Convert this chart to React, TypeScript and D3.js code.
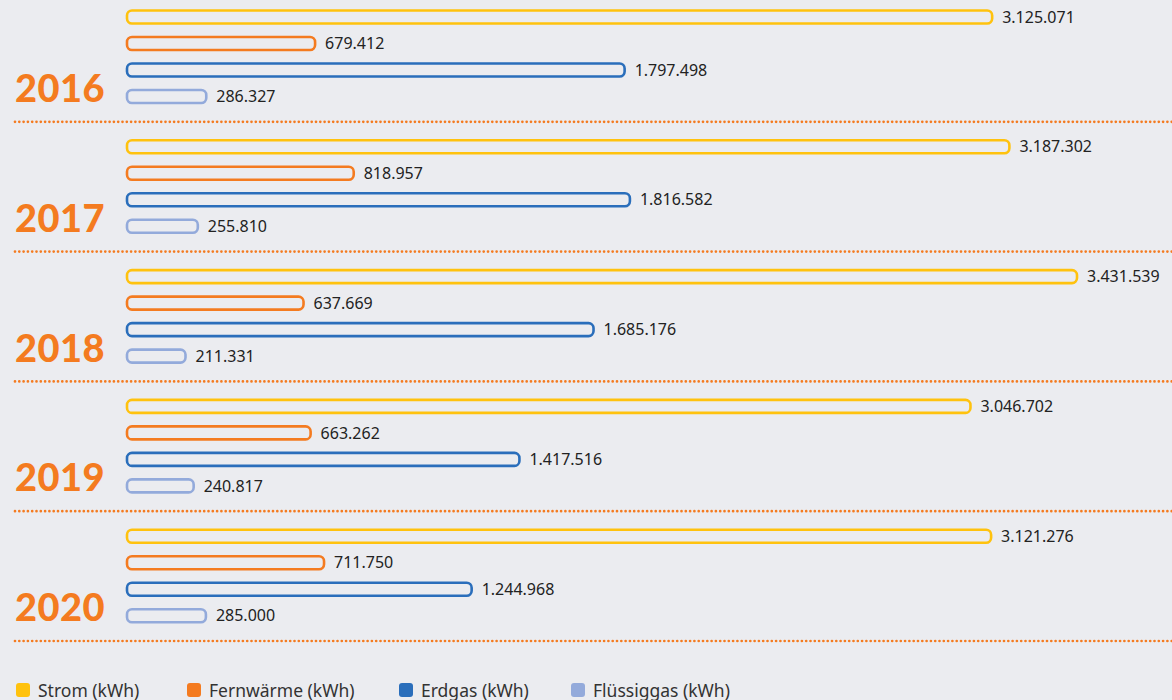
import * as d3 from "d3";

const years = ["2016", "2017", "2018", "2019", "2020"];
const series = ["Strom (kWh)", "Fernwärme (kWh)", "Erdgas (kWh)", "Flüssiggas (kWh)"];
const strom = [3125071, 3187302, 3431539, 3046702, 3121276];
const fernwaerme = [679412, 818957, 637669, 663262, 711750];
const erdgas = [1797498, 1816582, 1685176, 1417516, 1244968];
const fluessiggas = [286327, 255810, 211331, 240817, 285000];
const colors = ["#ffc20e", "#f47b20", "#2a6ebb", "#93aadb"];

const W = 1172;
const H = 700;
const BG = "#ebecf0";
const ORANGE = "#f47b20";

const fmt = (v: number) => d3.format(",")(v).replace(/,/g, ".");

export default function App() {
  const valuesBySeries = [strom, fernwaerme, erdgas, fluessiggas];

  const x = d3.scaleLinear().domain([0, 3431539]).range([127, 1077]);
  const yYear = d3.scaleBand<string>().domain(years).range([-8, -8 + 5 * 129.8]).padding(0);
  const ySeries = d3.scalePoint<string>().domain(series).range([11.75, 117.75]).padding(0.5);
  const barH = 13;

  const legendX = [16, 187, 399, 571];

  return (
    <svg
      width={W}
      height={H}
      style={{ position: "absolute", left: 0, top: 0, background: BG, display: "block" }}
    >
      <rect x={0} y={0} width={W} height={H} fill={BG} />
      {years.map((yr, i) => {
        const g0 = yYear(yr)!;
        return (
          <g key={yr}>
            <text
              x={15}
              y={g0 + 110}
              fontFamily="Lato"
              fontWeight={900}
              fontSize={38}
              letterSpacing={0.5}
              fill={ORANGE}
            >
              {yr}
            </text>
            {series.map((s, j) => {
              const v = valuesBySeries[j][i];
              const cy = g0 + ySeries(s)!;
              return (
                <g key={s}>
                  <rect
                    x={x(0)}
                    y={cy - barH / 2}
                    width={x(v) - x(0)}
                    height={barH}
                    rx={5}
                    fill={BG}
                    stroke={colors[j]}
                    strokeWidth={2.6}
                  />
                  <text
                    x={x(v) + 10}
                    y={cy}
                    dy="0.35em"
                    fontFamily="Noto Sans"
                    fontSize={16}
                    fill="#222"
                  >
                    {fmt(v)}
                  </text>
                </g>
              );
            })}
            <line
              x1={15}
              x2={W}
              y1={g0 + yYear.bandwidth()}
              y2={g0 + yYear.bandwidth()}
              stroke={ORANGE}
              strokeWidth={2.7}
              strokeDasharray="0 4.3"
              strokeLinecap="round"
            />
          </g>
        );
      })}
      {series.map((s, j) => (
        <g key={s} transform={`translate(${legendX[j]},683)`}>
          <rect x={0} y={0} width={14} height={14} rx={3} fill={colors[j]} />
          <text x={22} y={13.5} fontFamily="Noto Sans" fontSize={17.5} fill="#333">
            {s}
          </text>
        </g>
      ))}
    </svg>
  );
}
